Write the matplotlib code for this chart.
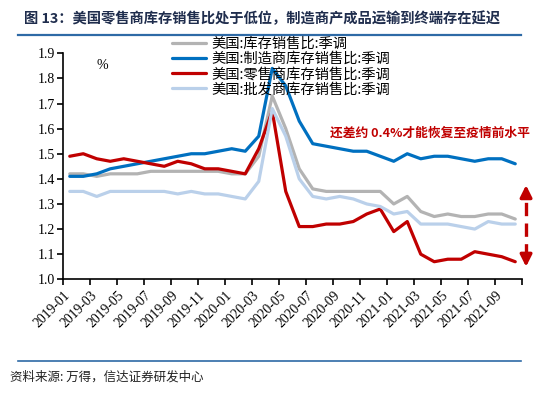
import numpy as np
import matplotlib
matplotlib.use('Agg')
import matplotlib.pyplot as plt

# ---------------- data ----------------
months = [f"{y}-{m:02d}" for y in (2019, 2020, 2021) for m in range(1, 13)][:34]
tick_labels = ['2019-01', '2019-03', '2019-05', '2019-07', '2019-09', '2019-11',
               '2020-01', '2020-03', '2020-05', '2020-07', '2020-09', '2020-11',
               '2021-01', '2021-03', '2021-05', '2021-07', '2021-09']

total = [1.42, 1.42, 1.41, 1.42, 1.42, 1.42, 1.43, 1.43, 1.43, 1.43, 1.43, 1.43,
         1.42, 1.42, 1.49, 1.73, 1.60, 1.44, 1.36, 1.35, 1.35, 1.35, 1.35, 1.35,
         1.30, 1.33, 1.27, 1.25, 1.26, 1.25, 1.25, 1.26, 1.26, 1.24]
manuf = [1.41, 1.41, 1.42, 1.44, 1.45, 1.46, 1.47, 1.48, 1.49, 1.50, 1.50, 1.51,
         1.52, 1.51, 1.57, 1.84, 1.77, 1.63, 1.54, 1.53, 1.52, 1.51, 1.51, 1.49,
         1.47, 1.50, 1.48, 1.49, 1.49, 1.48, 1.47, 1.48, 1.48, 1.46]
retail = [1.49, 1.50, 1.48, 1.47, 1.48, 1.47, 1.46, 1.45, 1.47, 1.46, 1.44, 1.44,
          1.43, 1.42, 1.52, 1.67, 1.35, 1.21, 1.21, 1.22, 1.22, 1.23, 1.26, 1.28,
          1.19, 1.23, 1.10, 1.07, 1.08, 1.08, 1.11, 1.10, 1.09, 1.07]
wholesale = [1.35, 1.35, 1.33, 1.35, 1.35, 1.35, 1.35, 1.35, 1.34, 1.35, 1.34, 1.34,
             1.33, 1.32, 1.39, 1.68, 1.57, 1.40, 1.33, 1.32, 1.33, 1.32, 1.30, 1.29,
             1.26, 1.27, 1.22, 1.22, 1.22, 1.21, 1.20, 1.23, 1.22, 1.22]

series_names = ['美国:库存销售比:季调', '美国:制造商库存销售比:季调',
                '美国:零售商库存销售比:季调', '美国:批发商库存销售比:季调']
series_colors = ['#B3B3B3', '#0070C0', '#C00000', '#BAD0EA']

title = '图 13：美国零售商库存销售比处于低位，制造商产成品运输到终端存在延迟'
source = '资料来源: 万得，信达证券研发中心'
note = '还差约 0.4%才能恢复至疫情前水平'
arrow_x = 33.8
arrow_top = 1.375
arrow_bottom = 1.05

# ---------------- figure ----------------
cjk = ['Noto Sans CJK SC', 'DejaVu Sans']
serif = ['Liberation Serif', 'DejaVu Serif']

W, H = 559, 394
fig = plt.figure(figsize=(W / 100, H / 100), dpi=100)

def fx(px):
    return px / W

def fy(py):
    return 1 - py / H

ax = fig.add_axes([fx(63), fy(279.3), fx(522) - fx(63), fy(53.3) - fy(279.3)])

x = np.arange(len(months))
for vals, name, col in zip([total, manuf, retail, wholesale], series_names, series_colors):
    ax.plot(x, vals, color=col, lw=2.3, label=name, solid_capstyle='round',
            solid_joinstyle='round')

ax.set_xlim(-0.5, len(months) - 0.5)
ax.set_ylim(1.0, 1.9)
yt = np.round(np.arange(1.0, 1.91, 0.1), 1)
ax.set_yticks(yt)
ax.set_yticklabels([f'{v:.1f}' for v in yt], family=serif, fontsize=10)
xt = np.arange(-0.5, len(months), 2)
ax.set_xticks(xt)
ax.set_xticklabels(tick_labels + [''] * (len(xt) - len(tick_labels)),
                   family=serif, fontsize=9.8, rotation=45, ha='right', va='top',
                   rotation_mode='anchor')
ax.tick_params(axis='both', direction='out', length=4, width=1.2, color='black')
ax.tick_params(axis='x', pad=3)
ax.tick_params(axis='y', pad=2)
for s in ['top', 'right']:
    ax.spines[s].set_visible(False)
for s in ['left', 'bottom']:
    ax.spines[s].set_linewidth(1.2)

ax.text(0.085, 0.945, '%', transform=ax.transAxes, family=serif, fontsize=10,
        ha='center', va='center')

leg = ax.legend(loc='upper left', bbox_to_anchor=(fx(172), fy(37)),
                bbox_transform=fig.transFigure, frameon=False,
                prop={'family': cjk, 'size': 10.3}, handlelength=2.4,
                handletextpad=0.35, labelspacing=0.08, borderpad=0,
                borderaxespad=0)

fig.text(fx(530), fy(133), note, color='#C00000', fontsize=9.2,
         family=cjk, fontweight='bold', ha='right', va='center')

# dashed double arrow
ax.plot([arrow_x, arrow_x], [arrow_bottom + 0.04, arrow_top - 0.035], color='#C00000',
        lw=2.4, ls=(0, (4, 2.2)), clip_on=False)
for tip, base in [(arrow_top, arrow_top - 0.04), (arrow_bottom, arrow_bottom + 0.04)]:
    ax.annotate('', xy=(arrow_x, tip), xytext=(arrow_x, base),
                arrowprops=dict(arrowstyle='-|>,head_length=0.7,head_width=0.35',
                                color='#C00000', lw=2.4, shrinkA=0, shrinkB=0),
                annotation_clip=False)

# title, rules, footer
fig.text(fx(24), fy(19), title, family=cjk, fontsize=10.3, fontweight='bold',
         color='#1F2D4D', ha='left', va='center')
fig.add_artist(plt.Line2D([fx(18), fx(521)], [fy(34.5), fy(34.5)], color='#2E6AA6', lw=1.6))
fig.add_artist(plt.Line2D([fx(18), fx(521)], [fy(361), fy(361)], color='#2E6AA6', lw=1.2))
fig.text(fx(10), fy(377), source, family=cjk, fontsize=9, color='#222222',
         ha='left', va='center', style='italic')

fig.savefig('out.png', dpi=100)
